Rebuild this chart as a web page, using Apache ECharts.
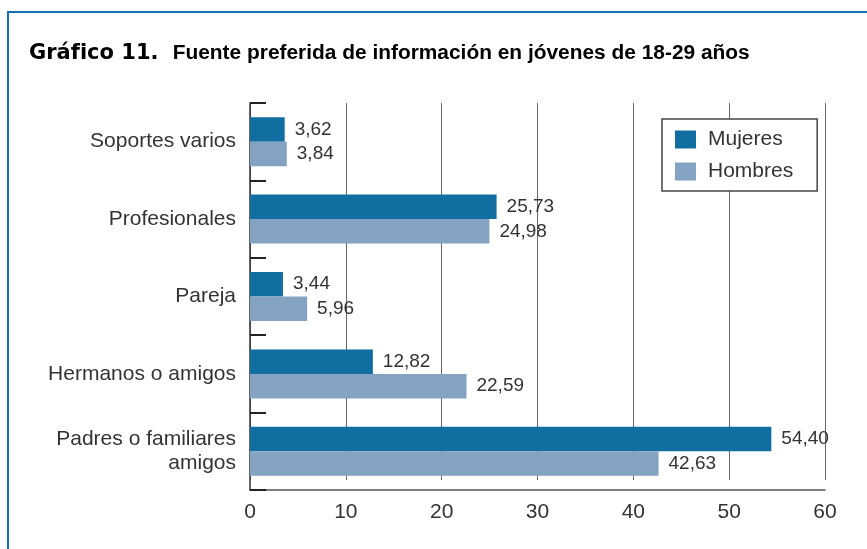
<!DOCTYPE html>
<html lang="es">
<head>
    <meta charset="UTF-8"/>
    <script src="https://cdn.jsdelivr.net/npm/echarts@6/dist/echarts.min.js"></script>
    <title>Gráfico 11</title>
    <style>
        html, body { margin:0; padding:0; background:#fff; }
    </style>
</head>
<body>
<div id="main" style="width:867px; height:549px;"></div>
<script type="text/javascript">
    // datos del gráfico
    var categorias = ['Soportes varios', 'Profesionales', 'Pareja', 'Hermanos o amigos', 'Padres o familiares\namigos'];
    var mujeres = [3.62, 25.73, 3.44, 12.82, 54.40];
    var hombres = [3.84, 24.98, 5.96, 22.59, 42.63];
    var ejeX = [0, 10, 20, 30, 40, 50, 60];

    var fuente = '"Liberation Sans", Arial, sans-serif';
    var texto = '#333';

    function coma(p) {
        return p.value.toFixed(2).replace('.', ',');
    }

    var myChart = echarts.init(document.getElementById('main'));

    var option = {
        animation: false,
        backgroundColor: '#fff',
        textStyle: { fontFamily: fuente },
        title: {
            left: 24,
            top: 38,
            text: '{a|Gráfico 11.}   {b|Fuente preferida de información en jóvenes de 18-29 años}',
            textStyle: {
                rich: {
                    a: { fontFamily: '"DejaVu Sans", sans-serif', fontWeight: 'bold', fontSize: 21, color: '#000' },
                    b: { fontFamily: fuente, fontWeight: 'bold', fontSize: 20.9, color: '#000' }
                }
            }
        },
        graphic: [{
            type: 'rect',
            shape: { x: 8, y: 12, width: 900, height: 600 },
            style: { fill: 'none', stroke: '#1070b8', lineWidth: 2 },
            silent: true
        }],
        legend: {
            orient: 'vertical',
            left: 662,
            top: 119,
            padding: [10, 24, 9, 13],
            itemWidth: 21,
            itemHeight: 18,
            itemGap: 11,
            icon: 'rect',
            borderColor: '#444',
            borderWidth: 1.5,
            backgroundColor: '#fff',
            z: 10,
            textStyle: { fontSize: 21, color: texto, padding: [0, 0, 0, 7] },
            data: ['Mujeres', 'Hombres']
        },
        grid: [
            { left: 250, right: 42, top: 103, bottom: 59 },
            { left: 250, right: 42, top: 103, bottom: 69 }
        ],
        xAxis: [{
            type: 'value',
            gridIndex: 0,
            min: 0,
            max: 60,
            interval: 10,
            axisLine: { show: true, lineStyle: { color: '#555', width: 1.5 } },
            axisTick: { show: false },
            splitLine: { show: false },
            axisLabel: { fontSize: 21, color: texto, margin: 12 }
        }, {
            type: 'value',
            gridIndex: 1,
            min: 0,
            max: 60,
            interval: 10,
            axisLine: { show: false },
            axisTick: { show: false },
            axisLabel: { show: false },
            splitLine: { show: true, lineStyle: { color: '#666', width: 1 } }
        }],
        yAxis: [{
            type: 'category',
            gridIndex: 0,
            inverse: true,
            data: categorias,
            axisLine: { show: true, lineStyle: { color: '#333', width: 1.5 } },
            axisTick: { show: true, inside: true, length: 16, lineStyle: { color: '#222', width: 2 } },
            axisLabel: { fontSize: 21, color: texto, margin: 14, lineHeight: 24, align: 'right' }
        }, {
            type: 'category',
            gridIndex: 1,
            inverse: true,
            data: categorias,
            show: false
        }],
        series: [
            {
                name: 'Mujeres',
                type: 'bar',
                xAxisIndex: 0,
                yAxisIndex: 0,
                data: mujeres,
                barWidth: 24.5,
                barGap: '0%',
                itemStyle: { color: '#106ea0' },
                label: { show: true, position: 'right', distance: 10, fontSize: 19, color: texto, formatter: coma },
                z: 3
            },
            {
                name: 'Hombres',
                type: 'bar',
                xAxisIndex: 0,
                yAxisIndex: 0,
                data: hombres,
                barWidth: 24.5,
                barGap: '0%',
                itemStyle: { color: '#84a2c2' },
                label: { show: true, position: 'right', distance: 10, fontSize: 19, color: texto, formatter: coma },
                z: 3
            }
        ]
    };

    myChart.setOption(option);
</script>
</body>
</html>
